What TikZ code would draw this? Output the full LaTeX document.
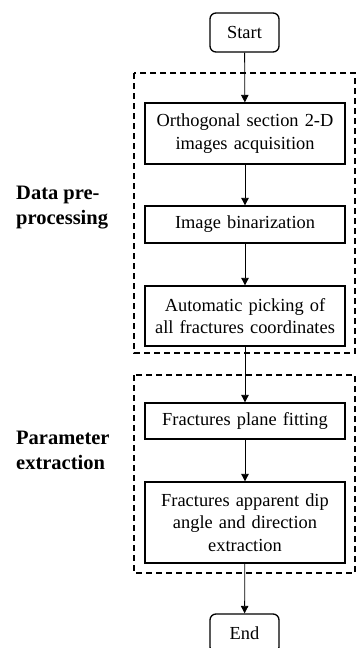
\documentclass[tikz,border=0pt]{standalone}
\usepackage{fontspec}
\setmainfont{Liberation Serif}
\usetikzlibrary{arrows.meta}
\begin{document}
\begin{tikzpicture}[x=1pt,y=-1pt,
  stepbox/.style={draw,line width=1.3pt,minimum width=200pt,text width=196pt,align=center,inner sep=0pt,
    font=\fontsize{18.4}{22.5}\selectfont},
  termbox/.style={draw,line width=1.3pt,rounded corners=6pt,minimum width=69pt,minimum height=39pt,inner sep=0pt,
    font=\fontsize{18.4}{22.5}\selectfont},
  grp/.style={draw,dashed,line width=1.3pt,dash pattern=on 6pt off 4pt},
  lbl/.style={anchor=west,align=left,inner sep=0pt,font=\fontsize{20.5}{25}\selectfont\bfseries},
  arr/.style={draw,line width=0.8pt,-{Triangle[length=7.5pt,width=7.5pt]}}]
\useasboundingbox (0,0) rectangle (356,648);
% groups
\draw[grp] (134,73) rectangle (355,353);
\draw[grp] (134,375) rectangle (355,573);
% nodes
\node[termbox] (start) at (244.5,32.5) {Start};
\node[stepbox,minimum height=61pt] (b1) at (245,133.5) {Orthogonal section 2-D\\images acquisition};
\node[stepbox,minimum height=37pt] (b2) at (245,224.5) {Image binarization};
\node[stepbox,minimum height=60pt] (b3) at (245,316) {Automatic picking of\\all fractures coordinates};
\node[stepbox,minimum height=36pt] (b4) at (245,421) {Fractures plane fitting};
\node[stepbox,minimum height=81pt] (b5) at (245,522.5) {Fractures apparent dip\\angle and direction\\extraction};
\node[termbox] (end) at (244.5,633.5) {End};
% labels
\node[lbl] (l1) at (16,208) {Data pre-\\processing};
\node[lbl] (l2) at (16,450.5) {Parameter\\extraction};
% arrows
\draw[arr] (start) -- (b1);
\draw[arr] (b1) -- (b2);
\draw[arr] (b2) -- (b3);
\draw[arr] (b3) -- (b4);
\draw[arr] (b4) -- (b5);
\draw[arr] (b5) -- (end);
\end{tikzpicture}
\end{document}
